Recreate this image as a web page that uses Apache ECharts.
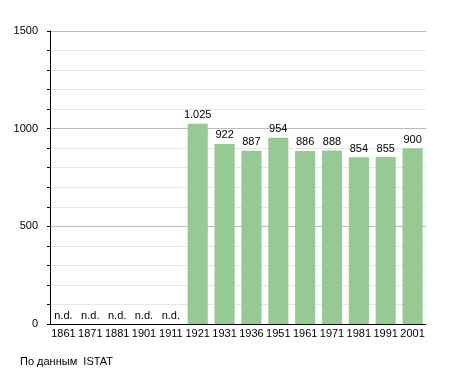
<!DOCTYPE html>
<html><head><meta charset="utf-8">
<script src="https://cdn.jsdelivr.net/npm/echarts@6/dist/echarts.min.js"></script>
<style>html,body{margin:0;padding:0;background:#fff}#c{width:455px;height:373px}</style>
</head><body><div id="c"></div>
<script>
const years = ['1861','1871','1881','1901','1911','1921','1931','1936','1951','1961','1971','1981','1991','2001'];
const population = [null,null,null,null,null,1025,922,887,954,886,888,854,855,900];
const yTicks = [0,500,1000,1500];
const source = 'По данным  ISTAT';

const font = 'Liberation Sans, Arial, sans-serif';
const chart = echarts.init(document.getElementById('c'));
chart.setOption({
  animation:false,
  grid:{left:50,right:29,top:31,bottom:49},
  graphic:[{type:'text',left:20,top:356,style:{text:source,font:'11px '+font,fill:'#000'}}],
  xAxis:{type:'category',data:years,
    axisLine:{lineStyle:{color:'#000',width:1}},axisTick:{show:false},
    axisLabel:{color:'#000',fontFamily:font,fontSize:11,margin:4,interval:0}},
  yAxis:{type:'value',min:0,max:1500,interval:100,
    axisLine:{show:true,lineStyle:{color:'#000'}},
    axisTick:{show:true,length:3,inside:false,lineStyle:{color:'#000'}},
    axisLabel:{color:'#000',fontFamily:font,fontSize:11,margin:12,
      formatter:v=>yTicks.includes(v)?String(v):''},
    splitLine:{show:true,lineStyle:{color:['#bbb','#e6e6e6','#e6e6e6','#e6e6e6','#e6e6e6']}}},
  series:[{type:'bar',barWidth:'75%',
    data:population.map(v=>v===null?0:v),
    itemStyle:{color:'#97c995'},
    label:{show:true,position:'top',distance:3,color:'#000',fontFamily:font,fontSize:11,
      formatter:p=>population[p.dataIndex]===null?'n.d.':(p.value>=1000?String(p.value).replace(/(\d)(\d{3})$/,'$1.$2'):String(p.value))}}]
});
</script></body></html>
